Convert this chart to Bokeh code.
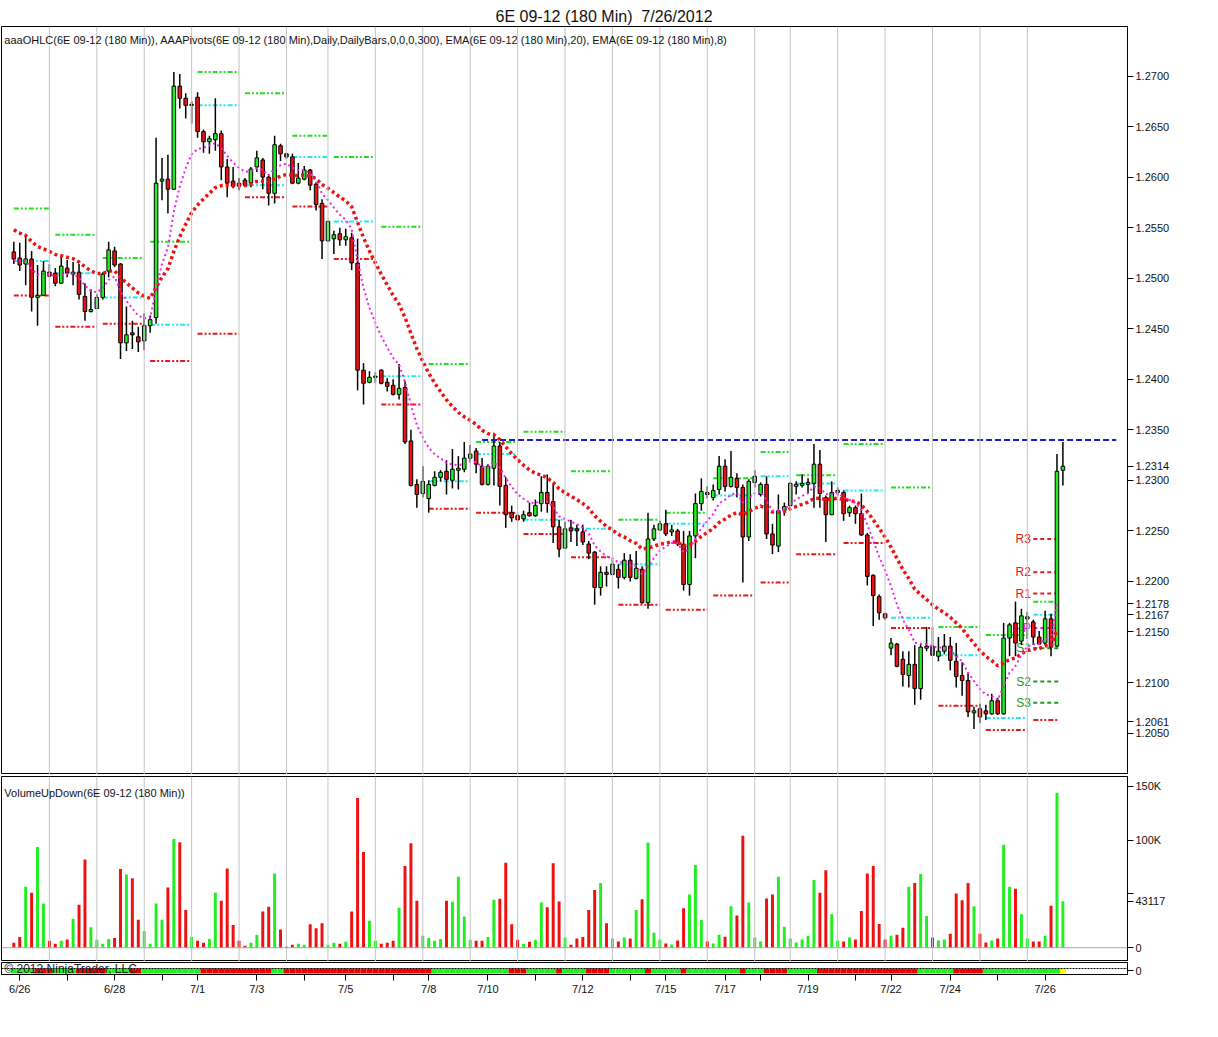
from bokeh.plotting import figure
from bokeh.layouts import column
from bokeh.models import Range1d, FixedTicker, Span, Label, PrintfTickFormatter
from bokeh.embed import file_html
from bokeh.resources import INLINE
from bokeh.core.properties import value

FONT = "Liberation Sans"

title_text = "6E 09-12 (180 Min)\u00a0 7/26/2012"
legend_text = ("aaaOHLC(6E 09-12 (180 Min)), AAAPivots(6E 09-12 (180 Min),Daily,DailyBars,0,0,0,300), "
               "EMA(6E 09-12 (180 Min),20), EMA(6E 09-12 (180 Min),8)")
volume_title = "VolumeUpDown(6E 09-12 (180 Min))"
copyright_text = "\u00a9 2012 NinjaTrader, LLC"

# ---------------- OHLC (180 min bars) ----------------
opens = [1.2526, 1.2520, 1.2514, 1.2519, 1.2481, 1.2483, 1.2506, 1.2505, 1.2495, 1.2510,
         1.2504, 1.2506, 1.2482, 1.2467, 1.2470, 1.2481, 1.2507, 1.2527, 1.2514, 1.2436,
         1.2446, 1.2442, 1.2438, 1.2453, 1.2461, 1.2596, 1.2598, 1.2588, 1.2690, 1.2678,
         1.2671, 1.2679, 1.2645, 1.2635, 1.2637, 1.2643, 1.2610, 1.2596, 1.2594, 1.2597,
         1.2594, 1.2610, 1.2617, 1.2600, 1.2584, 1.2631, 1.2623, 1.2620, 1.2594, 1.2598,
         1.2607, 1.2593, 1.2574, 1.2537, 1.2539, 1.2544, 1.2538, 1.2540, 1.2515, 1.2409,
         1.2397, 1.2402, 1.2409, 1.2397, 1.2394, 1.2385, 1.2392, 1.2339, 1.2296, 1.2287,
         1.2282, 1.2295, 1.2303, 1.2309, 1.2300, 1.2310, 1.2311, 1.2322, 1.2329, 1.2314,
         1.2296, 1.2312, 1.2334, 1.2295, 1.2268, 1.2265, 1.2262, 1.2268, 1.2265, 1.2277,
         1.2288, 1.2279, 1.2254, 1.2233, 1.2253, 1.2252, 1.2249, 1.2237, 1.2229, 1.2194,
         1.2209, 1.2207, 1.2212, 1.2204, 1.2221, 1.2203, 1.2212, 1.2179, 1.2242, 1.2251,
         1.2257, 1.2249, 1.2250, 1.2237, 1.2197, 1.2245, 1.2277, 1.2288, 1.2283, 1.2291,
         1.2314, 1.2294, 1.2302, 1.2293, 1.2244, 1.2298, 1.2286, 1.2296, 1.2247, 1.2235,
         1.2270, 1.2275, 1.2294, 1.2295, 1.2296, 1.2297, 1.2316, 1.2283, 1.2266, 1.2288,
         1.2288, 1.2268, 1.2273, 1.2267, 1.2246, 1.2206, 1.2185, 1.2168, 1.2134, 1.2138,
         1.2123, 1.2107, 1.2118, 1.2094, 1.2134, 1.2136, 1.2126, 1.2131, 1.2136, 1.2121,
         1.2107, 1.2102, 1.2070, 1.2074, 1.2072, 1.2069, 1.2082, 1.2069, 1.2144, 1.2159,
         1.2141, 1.2163, 1.2160, 1.2145, 1.2139, 1.2163, 1.2136, 1.2310]
highs = [1.2536, 1.2535, 1.2544, 1.2527, 1.2513, 1.2517, 1.2514, 1.2510, 1.2521, 1.2518,
         1.2516, 1.2514, 1.2495, 1.2489, 1.2484, 1.2506, 1.2536, 1.2531, 1.2515, 1.2472,
         1.2458, 1.2452, 1.2465, 1.2463, 1.2639, 1.2619, 1.2622, 1.2704, 1.2702, 1.2683,
         1.2675, 1.2684, 1.2647, 1.2641, 1.2678, 1.2646, 1.2618, 1.2610, 1.2599, 1.2599,
         1.2610, 1.2626, 1.2619, 1.2603, 1.2641, 1.2633, 1.2624, 1.2623, 1.2614, 1.2611,
         1.2608, 1.2595, 1.2578, 1.2557, 1.2547, 1.2550, 1.2549, 1.2545, 1.2539, 1.2416,
         1.2408, 1.2407, 1.2410, 1.2401, 1.2400, 1.2415, 1.2398, 1.2350, 1.2301, 1.2314,
         1.2300, 1.2309, 1.2310, 1.2320, 1.2331, 1.2324, 1.2338, 1.2335, 1.2332, 1.2322,
         1.2316, 1.2347, 1.2338, 1.2303, 1.2275, 1.2267, 1.2270, 1.2278, 1.2281, 1.2304,
         1.2306, 1.2297, 1.2261, 1.2259, 1.2261, 1.2256, 1.2256, 1.2240, 1.2230, 1.2215,
         1.2215, 1.2222, 1.2217, 1.2228, 1.2227, 1.2230, 1.2215, 1.2268, 1.2256, 1.2260,
         1.2271, 1.2256, 1.2252, 1.2250, 1.2250, 1.2287, 1.2302, 1.2294, 1.2296, 1.2324,
         1.2321, 1.2329, 1.2307, 1.2296, 1.2301, 1.2310, 1.2298, 1.2304, 1.2257, 1.2286,
         1.2278, 1.2298, 1.2299, 1.2306, 1.2302, 1.2336, 1.2330, 1.2285, 1.2299, 1.2293,
         1.2290, 1.2275, 1.2275, 1.2287, 1.2248, 1.2207, 1.2187, 1.2169, 1.2144, 1.2139,
         1.2131, 1.2131, 1.2137, 1.2138, 1.2155, 1.2155, 1.2145, 1.2148, 1.2145, 1.2139,
         1.2120, 1.2110, 1.2076, 1.2079, 1.2078, 1.2089, 1.2085, 1.2159, 1.2159, 1.2180,
         1.2173, 1.2170, 1.2162, 1.2151, 1.2171, 1.2168, 1.2326, 1.2338]
lows = [1.2514, 1.2507, 1.2493, 1.2467, 1.2453, 1.2483, 1.2501, 1.2492, 1.2495, 1.2501,
        1.2493, 1.2479, 1.2458, 1.2466, 1.2470, 1.2479, 1.2501, 1.2511, 1.2420, 1.2428,
        1.2430, 1.2427, 1.2429, 1.2446, 1.2455, 1.2577, 1.2564, 1.2588, 1.2668, 1.2658,
        1.2653, 1.2639, 1.2624, 1.2623, 1.2626, 1.2597, 1.2580, 1.2589, 1.2587, 1.2590,
        1.2590, 1.2605, 1.2588, 1.2572, 1.2574, 1.2616, 1.2618, 1.2593, 1.2593, 1.2597,
        1.2587, 1.2567, 1.2519, 1.2536, 1.2524, 1.2532, 1.2532, 1.2508, 1.2389, 1.2375,
        1.2396, 1.2396, 1.2395, 1.2388, 1.2384, 1.2380, 1.2336, 1.2294, 1.2273, 1.2283,
        1.2268, 1.2294, 1.2299, 1.2286, 1.2292, 1.2291, 1.2308, 1.2319, 1.2307, 1.2295,
        1.2295, 1.2295, 1.2275, 1.2253, 1.2259, 1.2260, 1.2259, 1.2264, 1.2264, 1.2269,
        1.2268, 1.2238, 1.2224, 1.2232, 1.2239, 1.2235, 1.2236, 1.2222, 1.2177, 1.2186,
        1.2195, 1.2206, 1.2193, 1.2202, 1.2200, 1.2202, 1.2178, 1.2173, 1.2240, 1.2250,
        1.2245, 1.2245, 1.2235, 1.2191, 1.2186, 1.2223, 1.2270, 1.2282, 1.2280, 1.2286,
        1.2289, 1.2293, 1.2283, 1.2199, 1.2240, 1.2293, 1.2284, 1.2242, 1.2227, 1.2229,
        1.2265, 1.2274, 1.2286, 1.2293, 1.2287, 1.2273, 1.2273, 1.2239, 1.2266, 1.2285,
        1.2260, 1.2264, 1.2257, 1.2245, 1.2196, 1.2156, 1.2162, 1.2162, 1.2127, 1.2115,
        1.2096, 1.2095, 1.2078, 1.2083, 1.2131, 1.2126, 1.2121, 1.2128, 1.2112, 1.2095,
        1.2087, 1.2066, 1.2054, 1.2060, 1.2063, 1.2068, 1.2068, 1.2068, 1.2126, 1.2126,
        1.2137, 1.2143, 1.2137, 1.2137, 1.2137, 1.2126, 1.2135, 1.2295]
closes = [1.2519, 1.2513, 1.2519, 1.2481, 1.2483, 1.2507, 1.2502, 1.2495, 1.2512, 1.2505,
          1.2506, 1.2484, 1.2467, 1.2469, 1.2481, 1.2504, 1.2528, 1.2513, 1.2436, 1.2444,
          1.2444, 1.2437, 1.2453, 1.2459, 1.2594, 1.2598, 1.2588, 1.2690, 1.2678, 1.2671,
          1.2672, 1.2645, 1.2635, 1.2638, 1.2643, 1.2610, 1.2594, 1.2591, 1.2591, 1.2592,
          1.2608, 1.2619, 1.2600, 1.2584, 1.2632, 1.2623, 1.2620, 1.2594, 1.2599, 1.2607,
          1.2592, 1.2573, 1.2537, 1.2556, 1.2543, 1.2538, 1.2541, 1.2515, 1.2409, 1.2396,
          1.2402, 1.2403, 1.2396, 1.2393, 1.2385, 1.2391, 1.2338, 1.2295, 1.2286, 1.2299,
          1.2296, 1.2303, 1.2308, 1.2301, 1.2311, 1.2312, 1.2322, 1.2326, 1.2316, 1.2296,
          1.2314, 1.2334, 1.2294, 1.2266, 1.2263, 1.2261, 1.2266, 1.2265, 1.2275, 1.2288,
          1.2277, 1.2254, 1.2232, 1.2252, 1.2250, 1.2250, 1.2239, 1.2228, 1.2194, 1.2209,
          1.2207, 1.2217, 1.2204, 1.2221, 1.2204, 1.2213, 1.2179, 1.2242, 1.2252, 1.2257,
          1.2247, 1.2251, 1.2237, 1.2197, 1.2245, 1.2277, 1.2289, 1.2286, 1.2290, 1.2314,
          1.2294, 1.2303, 1.2293, 1.2244, 1.2299, 1.2304, 1.2296, 1.2247, 1.2236, 1.2270,
          1.2274, 1.2297, 1.2296, 1.2297, 1.2298, 1.2316, 1.2287, 1.2266, 1.2288, 1.2290,
          1.2267, 1.2273, 1.2267, 1.2246, 1.2205, 1.2186, 1.2169, 1.2164, 1.2139, 1.2116,
          1.2108, 1.2118, 1.2094, 1.2135, 1.2136, 1.2127, 1.2131, 1.2136, 1.2122, 1.2106,
          1.2102, 1.2071, 1.2072, 1.2066, 1.2069, 1.2082, 1.2069, 1.2144, 1.2157, 1.2139,
          1.2166, 1.2165, 1.2145, 1.2138, 1.2163, 1.2135, 1.2309, 1.2314]
volumes = [4500, 10000, 56700, 51000, 93600, 41000, 6400, 3600, 6400, 7600,
           27000, 40000, 82000, 19000, 7300, 3600, 8000, 9000, 73000, 68000,
           64500, 26000, 15500, 3600, 41000, 26000, 56000, 101000, 98000, 35000,
           10000, 6400, 4500, 8000, 51000, 43600, 73600, 21000, 6400, 1800,
           4500, 11800, 33600, 38000, 69000, 17000, 1000, 2700, 3600, 2700,
           21800, 18000, 22700, 2700, 4500, 3600, 5500, 33600, 139000, 89000,
           25000, 6400, 3600, 4500, 6400, 37000, 76000, 97000, 43600, 11000,
           9000, 6400, 8000, 43600, 42700, 66000, 29000, 7300, 6400, 6400,
           10000, 44500, 45500, 79000, 21800, 7300, 3600, 5500, 7300, 42000,
           37600, 78500, 43000, 9400, 2700, 8500, 10000, 35000, 53600, 60000,
           22700, 8500, 5800, 9400, 8500, 35000, 45000, 97600, 14000, 7600,
           4000, 3000, 6700, 36700, 49400, 76700, 25800, 5800, 4000, 12000,
           10300, 38500, 30000, 104000, 42000, 9400, 5800, 45800, 49400, 65800,
           19400, 8500, 4800, 7600, 11200, 63000, 51000, 72000, 31000, 6700,
           5800, 9400, 7600, 34000, 69000, 75800, 22000, 7600, 11200, 12000,
           18500, 56700, 60000, 68500, 29400, 9400, 6700, 7600, 13000, 50300,
           44000, 60000, 38500, 13000, 4800, 6700, 8500, 95700, 56700, 54800,
           31000, 8500, 5800, 5800, 11200, 39000, 144000, 43117]

# EMA starting values (read at first bar)
ema20_seed = 1.2548
ema8_seed = 1.2518

# ---------------- daily pivots (prior day high / close / low) ----------------
session_ends = [6, 14, 22, 30, 38, 46, 53, 61, 69, 77, 85, 93, 101, 109, 117,
                125, 131, 139, 147, 155, 163, 171, 176.4]
piv_high = [1.2569, 1.2543, 1.2520, 1.2536, 1.2704, 1.2683, 1.2641, 1.2620, 1.2551, 1.2415,
            1.2338, 1.2348, 1.2309, 1.2261, 1.2268, 1.2302, 1.2328, 1.2305, 1.2336, 1.2293,
            1.2155, 1.2147, 1.2180]
piv_close = [1.2517, 1.2505, 1.2481, 1.2454, 1.2671, 1.2592, 1.2620, 1.2556, 1.2403, 1.2299,
             1.2326, 1.2261, 1.2252, 1.2217, 1.2257, 1.2285, 1.2304, 1.2297, 1.2290, 1.2164,
             1.2127, 1.2065, 1.2167]
piv_low = [1.2483, 1.2452, 1.2455, 1.2418, 1.2445, 1.2580, 1.2571, 1.2519, 1.2375, 1.2272,
           1.2268, 1.2247, 1.2224, 1.2177, 1.2172, 1.2186, 1.2199, 1.2227, 1.2238, 1.2154,
           1.2077, 1.2053, 1.2063]

# current-day floor pivots
cur_names = ["R3", "R2", "R1", "PP", "S1", "S2", "S3"]
cur_levels = [1.2242, 1.2209, 1.2188, 1.2154, 1.2134, 1.2101, 1.2080]

# user drawn horizontal line
hline_level = 1.2340
hline_from = 79
hline_to = 186

# axis ticks
price_ticks = [1.2050, 1.2100, 1.2150, 1.2200, 1.2250, 1.2300, 1.2350, 1.2400,
               1.2450, 1.2500, 1.2550, 1.2600, 1.2650, 1.2700]
vol_ticks = [0, 50000, 100000, 150000]
vol_tick_labels = ["0", "", "100K", "150K"]   # 50000 is hidden behind the value marker
date_ticks = [1, 9, 17, 25, 31, 41, 49, 56, 64, 70, 80, 88, 96, 104, 110, 120,
              126, 134, 142, 148, 158, 166, 174]
date_labels = ["6/26", "", "6/28", "", "7/1", "7/3", "", "7/5", "", "7/8", "7/10", "",
               "7/12", "", "7/15", "7/17", "", "7/19", "", "7/22", "7/24", "", "7/26"]

# right-axis value markers (last price, EMA8, EMA20, pivot low / last volume)
marker_text = ["1.2314", "1.2178", "1.2167", "1.2061"]
marker_value = [1.2314, 1.2178, 1.2167, 1.2061]
vol_marker_text = ["43117"]
vol_marker_value = [43117]

# bottom trend strip: runs of (first bar, last bar, state)
strip_runs = [(0, 3, "G"), (4, 6, "R"), (7, 10, "G"), (11, 15, "R"), (16, 19, "G"),
              (20, 21, "R"), (22, 31, "G"), (32, 43, "R"), (44, 45, "G"), (46, 70, "R"),
              (71, 83, "G"), (84, 86, "R"), (87, 91, "G"), (92, 92, "R"), (93, 96, "G"),
              (97, 100, "R"), (101, 106, "G"), (107, 107, "R"), (108, 112, "G"),
              (113, 113, "R"), (114, 122, "G"), (123, 123, "R"), (124, 126, "G"),
              (127, 130, "R"), (131, 135, "G"), (136, 152, "R"), (153, 158, "G"),
              (159, 163, "R"), (164, 176, "G"), (177, 177, "Y")]

# ---------------- styling ----------------
GREEN = "#22ee22"
RED = "#ee1111"
PIV_G = "#22dd22"
PIV_C = "#22e8f0"
PIV_R = "#e81818"
MAG = "#ee22ee"
GRID = "#c4c4c4"

n = len(closes)
idx = list(range(n))
candle_cols = [GREEN if c >= o else RED for o, c in zip(opens, closes)]
body_top = [max(o, c) for o, c in zip(opens, closes)]
body_bot = [min(o, c) for o, c in zip(opens, closes)]


def ema(vals, period, seed):
    a = 2.0 / (period + 1)
    out = [seed]
    for v in vals[1:]:
        out.append(out[-1] + a * (v - out[-1]))
    return out


# indicators are calculated on bar close -> last (open) bar excluded
ema20 = ema(closes[:-1], 20, ema20_seed)
ema8 = ema(closes[:-1], 8, ema8_seed)

W = 1202
RB = 75
x_rng = Range1d(-2.08, 187.9)


def style_axis(ax):
    ax.axis_line_color = "black"
    ax.major_tick_line_color = "black"
    ax.minor_tick_line_color = None
    ax.major_tick_out = 6
    ax.major_tick_in = 0
    ax.major_label_text_font = FONT
    ax.major_label_text_font_size = "11px"
    ax.major_label_text_color = "#111111"
    ax.major_label_standoff = 2


def base_fig(height, y_rng, top, bottom, xaxis=False):
    f = figure(width=W, height=height, x_range=x_rng, y_range=y_rng,
               output_backend="svg", toolbar_location=None,
               y_axis_location="right",
               x_axis_location="below" if xaxis else None,
               min_border_left=1, min_border_right=RB,
               min_border_top=top, min_border_bottom=bottom)
    f.grid.visible = False
    f.outline_line_color = "black"
    f.outline_line_width = 1
    f.background_fill_color = "white"
    f.border_fill_color = "white"
    return f


# ---------------- price panel ----------------
p1 = base_fig(774, Range1d(1.2009, 1.2749), 26, 0)
p1.title.text = title_text
p1.title.align = "left"
p1.title.offset = 494
p1.title.text_font = FONT
p1.title.text_font_size = "16px"
p1.title.text_font_style = "normal"
p1.title.text_color = "#111111"
p1.title.standoff = 4

for g in session_ends[:-1]:
    p1.add_layout(Span(location=g, dimension="height", line_color=GRID, line_width=1))

piv_start = [0] + [e + 1 for e in session_ends[:-1]]
dash_dot = "5 2 2 2 2 2"
for vals, col in ((piv_high, PIV_G), (piv_close, PIV_C), (piv_low, PIV_R)):
    p1.segment(x0=piv_start, y0=vals, x1=session_ends, y1=vals,
               line_color=col, line_width=2, line_dash=dash_dot)

cur_cols = ["#dd2222", "#dd2222", "#dd2222", "#ee22ee", "#229922", "#229922", "#229922"]
ns = len(cur_levels)
p1.segment(x0=[piv_start[-1]] * ns, y0=cur_levels, x1=[session_ends[-1]] * ns, y1=cur_levels,
           line_color=cur_cols, line_width=2, line_dash="4 3")
p1.text(x=[piv_start[-1] - 0.4] * ns, y=cur_levels, text=cur_names,
        text_align="right", text_baseline="middle", text_color=cur_cols,
        text_font=value(FONT), text_font_size="12px")

p1.segment(x0=idx, y0=lows, x1=idx, y1=highs, line_color="black", line_width=1.5)
p1.vbar(x=idx, width=0.6, top=body_top, bottom=body_bot,
        fill_color=candle_cols, line_color="black", line_width=1)

p1.line(idx[:-1], ema20, line_color=RED, line_width=3.5, line_dash="3 3")
p1.line(idx[:-1], ema8, line_color=MAG, line_width=2, line_dash="2 3")

p1.segment(x0=[hline_from], y0=[hline_level], x1=[hline_to], y1=[hline_level],
           line_color="#1c1cc8", line_width=2, line_dash="6 3")

# price scale: regular ticks plus the current-value markers
p1.yaxis.ticker = FixedTicker(ticks=price_ticks + marker_value)
p1.yaxis.formatter = PrintfTickFormatter(format="%.4f")
p1.yaxis.major_label_overrides = {v: t for v, t in zip(marker_value, marker_text)}
style_axis(p1.yaxis[0])

p1.add_layout(Label(x=-1.6, y=1.2736, text=legend_text, text_font=FONT,
                    text_font_size="11px", text_color="#111111", text_baseline="middle"))

# ---------------- volume panel ----------------
p2 = base_fig(187, Range1d(-12800, 159000), 2, 0)
for g in session_ends[:-1]:
    p2.add_layout(Span(location=g, dimension="height", line_color=GRID, line_width=1))
p2.add_layout(Span(location=0, dimension="width", line_color="#a8a8a8", line_width=1))
p2.vbar(x=idx, width=0.5, top=volumes, bottom=0, fill_color=candle_cols, line_color=None)
p2.yaxis.ticker = FixedTicker(ticks=vol_ticks + vol_marker_value)
labels_v = {t: l for t, l in zip(vol_ticks, vol_tick_labels)}
labels_v.update({v: t for v, t in zip(vol_marker_value, vol_marker_text)})
p2.yaxis.major_label_overrides = labels_v
style_axis(p2.yaxis[0])
p2.add_layout(Label(x=-1.6, y=143500, text=volume_title, text_font=FONT,
                    text_font_size="11px", text_color="#111111", text_baseline="middle"))

# ---------------- strip + date axis ----------------
p3 = base_fig(59, Range1d(-1.0, 2.25), 1, 46, xaxis=True)
strip_color_map = {"G": "#22ee22", "R": "#ee0000", "Y": "#ffff00"}
strip_x, strip_c = [], []
for a, b, s in strip_runs:
    for i in range(a, b + 1):
        strip_x.append(i)
        strip_c.append(strip_color_map[s])
p3.vbar(x=strip_x, width=1.0, top=0.62, bottom=-0.73, fill_color=strip_c, line_color=None)
p3.add_layout(Span(location=0.62, dimension="width", line_color="black",
                   line_width=1, line_dash="2 1"))
p3.yaxis.ticker = FixedTicker(ticks=[0])
style_axis(p3.yaxis[0])
p3.xaxis.ticker = FixedTicker(ticks=date_ticks)
p3.xaxis.major_label_overrides = {t: l for t, l in zip(date_ticks, date_labels)}
style_axis(p3.xaxis[0])
p3.add_layout(Label(x=-1.6, y=0.55, text=copyright_text, text_font=FONT,
                    text_font_size="12px", text_color="#222222", text_baseline="middle"))

layout = column(p1, p2, p3, spacing=0)
open("out.html", "w").write(file_html(layout, INLINE))
